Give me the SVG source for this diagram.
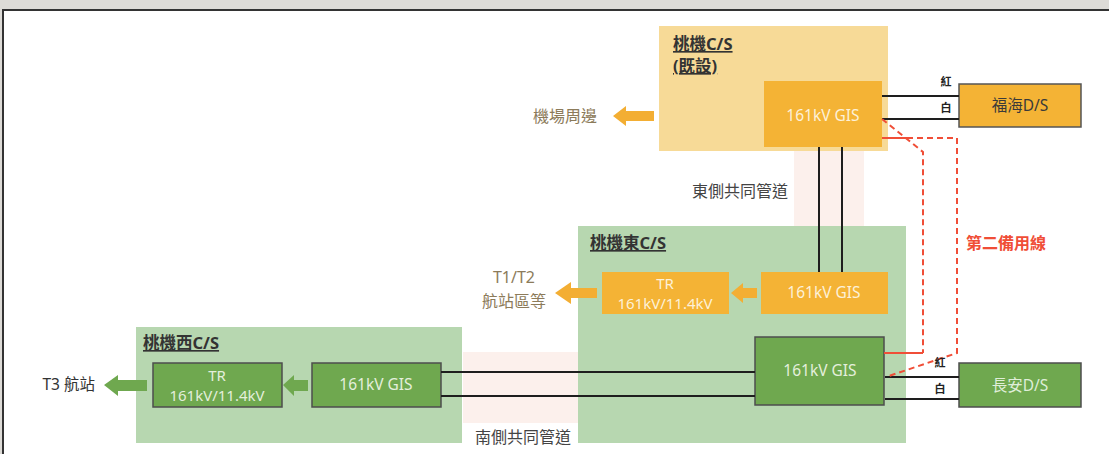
<svg xmlns="http://www.w3.org/2000/svg" width="1109" height="454" viewBox="0 0 1109 454">
<defs>
<style>
text{font-family:"Noto Sans","Noto Sans CJK TC",sans-serif;}
.lbl{font-size:16.5px;font-weight:bold;fill:#333;text-decoration:underline;}
.t15{font-size:15.5px;}
.t14{font-size:15px;}
.mid{text-anchor:middle;}
.onOr{fill:#fdf1d8;}
.onGr{fill:#e4efdc;}
.brown{fill:#8c7b5a;font-size:16px;}
.dark{fill:#444;font-size:16px;}
.rw{font-size:11px;font-weight:bold;fill:#222;text-anchor:middle;}
.cs-y{fill:#f7da97;}
.cs-g{fill:#b7d7b0;}
.org{fill:#f4b335;}
.grn{fill:#6fa84f;stroke:#4d4d4d;stroke-width:1.5;}
.band{fill:#fcf0ec;}
.cable{stroke:#1e1e1e;stroke-width:2;fill:none;}
.red{stroke:#f04e37;stroke-width:2;fill:none;}
.dash{stroke-dasharray:6 4;}
</style>
</defs>
<rect x="0" y="0" width="1109" height="454" fill="#dddbd7"/>
<rect x="3" y="10" width="1120" height="460" fill="#ffffff" stroke="#333" stroke-width="2"/>

<g id="band-east">
<rect class="band" x="794" y="151" width="70" height="76"/>
<text class="dark mid" x="740" y="197">東側共同管道</text>
</g>
<g id="band-south">
<rect class="band" x="463" y="352" width="115" height="71"/>
<text class="dark mid" x="523" y="443">南側共同管道</text>
</g>

<g id="cs-taoji">
<rect class="cs-y" x="659" y="26" width="229" height="125"/>
<text class="lbl" x="673" y="50">桃機C/S</text>
<text class="lbl" x="673" y="72">(既設)</text>
</g>
<g id="gis-taoji">
<rect class="org" x="764" y="81" width="118" height="66"/>
<text class="t15 mid onOr" x="823" y="121">161kV GIS</text>
</g>
<g id="out-airport">
<polygon fill="#f3ae33" points="613,116 626,106 626,111 654,111 654,121 626,121 626,126"/>
<text class="brown" text-anchor="end" x="597" y="122">機場周邊</text>
</g>
<g id="ds-fuhai">
<rect class="org" x="959" y="84" width="122" height="43" stroke="#555" stroke-width="1.5"/>
<text class="t15 mid" fill="#3a3a3a" x="1020" y="111">福海D/S</text>
</g>

<g id="cs-east">
<rect class="cs-g" x="578" y="226" width="328" height="217"/>
<text class="lbl" x="590" y="249">桃機東C/S</text>
</g>
<g id="tr-east">
<rect class="org" x="602" y="272" width="127" height="42"/>
<text class="t14 mid onOr" x="665" y="289">TR</text>
<text class="t14 mid onOr" x="665" y="309">161kV/11.4kV</text>
</g>
<g id="gis-east-top">
<rect class="org" x="761" y="272" width="127" height="42"/>
<text class="t15 mid onOr" x="824" y="298">161kV GIS</text>
</g>
<g id="out-t1t2">
<polygon fill="#f3ae33" points="555,293 571,282 571,288 597,288 597,298 571,298 571,304"/>
<text class="brown mid" x="514" y="283">T1/T2</text>
<text class="brown mid" x="514" y="307">航站區等</text>
</g>
<g id="gis-east-bottom">
<rect class="grn" x="755" y="337" width="129" height="68"/>
<text class="t15 mid onGr" x="820" y="376">161kV GIS</text>
</g>

<g id="cs-west">
<rect class="cs-g" x="136" y="327" width="326" height="116"/>
<text class="lbl" x="143" y="349">桃機西C/S</text>
</g>
<g id="tr-west">
<rect class="grn" x="153" y="363" width="129" height="44"/>
<text class="t14 mid onGr" x="217" y="381">TR</text>
<text class="t14 mid onGr" x="217" y="401">161kV/11.4kV</text>
</g>
<g id="gis-west">
<rect class="grn" x="312" y="363" width="129" height="44"/>
<text class="t15 mid onGr" x="376" y="390">161kV GIS</text>
</g>
<g id="out-t3">
<polygon fill="#6fa84f" points="104,385 118,375 118,380 147,380 147,391 118,391 118,396"/>
<text class="t15" fill="#333" text-anchor="end" x="95" y="390">T3 航站</text>
</g>
<g id="ds-changan">
<rect class="grn" x="959" y="363" width="122" height="44"/>
<text class="t15 mid" fill="#dfeed8" x="1020" y="391">長安D/S</text>
</g>

<g id="connectors">
<line class="cable" x1="882" y1="96" x2="959" y2="96"/>
<line class="cable" x1="882" y1="119" x2="959" y2="119"/>
<line class="cable" x1="819" y1="147" x2="819" y2="272"/>
<line class="cable" x1="842" y1="147" x2="842" y2="272"/>
<line class="cable" x1="441" y1="372" x2="755" y2="372"/>
<line class="cable" x1="441" y1="396" x2="755" y2="396"/>
<line class="cable" x1="885" y1="377" x2="959" y2="377"/>
<line class="cable" x1="885" y1="399" x2="959" y2="399"/>
<polygon fill="#f3ae33" points="731,293 743,283 743,288 757,288 757,298 743,298 743,303"/>
<polygon fill="#6fa84f" points="283,385 294,375 294,380 308,380 308,391 294,391 294,396"/>
<path class="red" d="M882,138 H907"/>
<path class="red dash" d="M907,138 H957 V353 L886,377"/>
<path class="red dash" d="M882,119 L923,152 V353"/>
<path class="red" d="M923,353 H884"/>
<text class="rw" x="946" y="86">紅</text>
<text class="rw" x="946" y="112">白</text>
<text class="rw" x="940" y="367">紅</text>
<text class="rw" x="940" y="393">白</text>
<text x="966" y="249" font-size="16" font-weight="bold" fill="#f04e37">第二備用線</text>
</g>
</svg>
